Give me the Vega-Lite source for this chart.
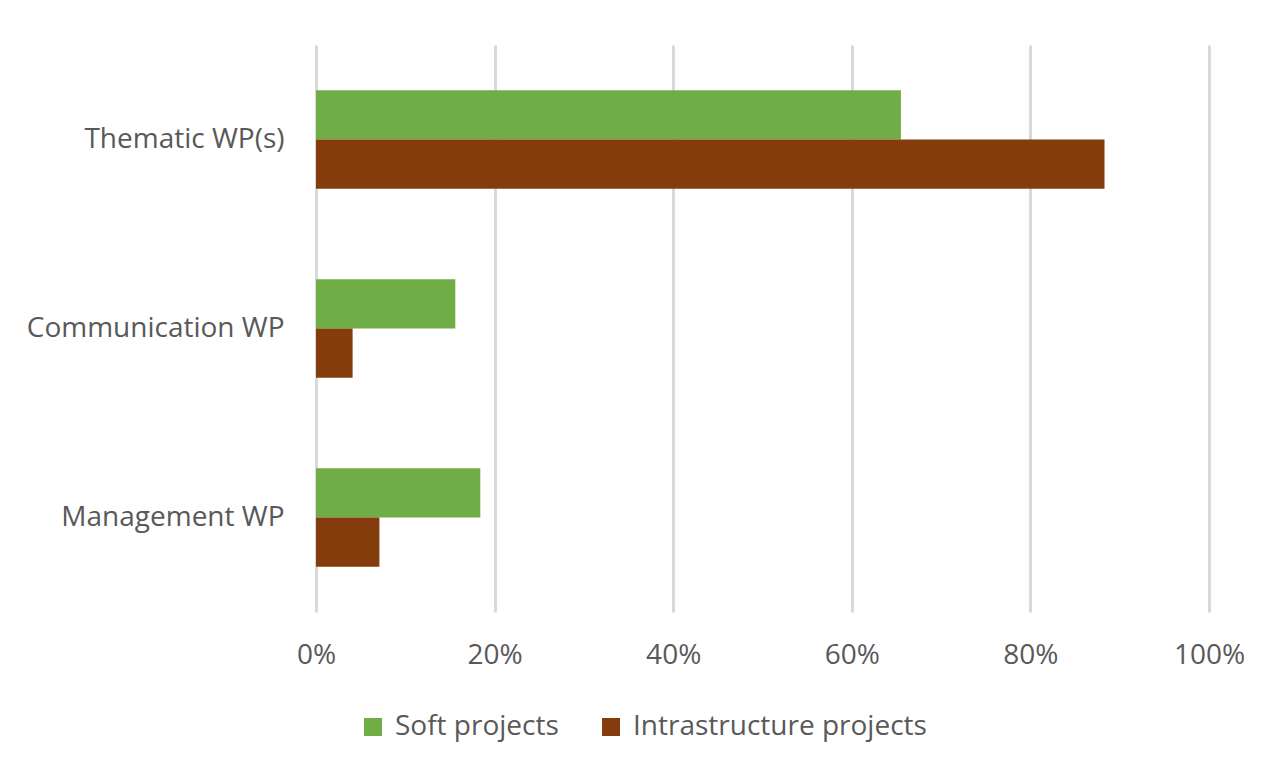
{
  "$schema": "https://vega.github.io/schema/vega-lite/v6.json",
  "autosize": {"type": "none"},
  "padding": {"left": 316, "top": 45, "right": 58, "bottom": 160},
  "width": 893,
  "height": 567,
  "background": "white",
  "config": {
    "font": "Open Sans",
    "view": {"stroke": null},
    "axis": {"labelColor": "#595959", "labelFontSize": 28, "labelFont": "Open Sans", "labelLimit": 500},
    "legend": {"labelColor": "#595959", "labelFontSize": 28, "labelFont": "Open Sans", "labelLimit": 500}
  },
  "data": {
    "values": [
      {"category": "Thematic WP(s)", "type": "Soft projects", "share": 0.655},
      {"category": "Thematic WP(s)", "type": "Intrastructure projects", "share": 0.883},
      {"category": "Communication WP", "type": "Soft projects", "share": 0.156},
      {"category": "Communication WP", "type": "Intrastructure projects", "share": 0.041},
      {"category": "Management WP", "type": "Soft projects", "share": 0.184},
      {"category": "Management WP", "type": "Intrastructure projects", "share": 0.071}
    ]
  },
  "mark": {"type": "bar"},
  "encoding": {
    "y": {
      "field": "category",
      "type": "nominal",
      "sort": ["Thematic WP(s)", "Communication WP", "Management WP"],
      "scale": {"paddingInner": 0.48, "paddingOuter": 0.24},
      "axis": {"title": null, "ticks": false, "domain": false, "labelPadding": 32, "grid": false}
    },
    "yOffset": {
      "field": "type",
      "type": "nominal",
      "sort": ["Soft projects", "Intrastructure projects"],
      "scale": {"paddingInner": 0, "paddingOuter": 0}
    },
    "x": {
      "field": "share",
      "type": "quantitative",
      "scale": {"domain": [0, 1], "nice": false},
      "axis": {
        "title": null,
        "format": ".0%",
        "values": [0, 0.2, 0.4, 0.6, 0.8, 1],
        "grid": true,
        "gridColor": "#d9d9d9",
        "gridWidth": 3,
        "ticks": false,
        "domain": false,
        "labelFlush": false,
        "labelPadding": 29
      }
    },
    "color": {
      "field": "type",
      "type": "nominal",
      "sort": ["Soft projects", "Intrastructure projects"],
      "scale": {"domain": ["Soft projects", "Intrastructure projects"], "range": ["#70AD47", "#843C0C"]},
      "legend": {
        "title": null,
        "orient": "none",
        "direction": "horizontal",
        "legendX": 43,
        "legendY": 668,
        "symbolType": "square",
        "symbolSize": 324,
        "symbolStrokeWidth": 0,
        "labelOffset": 8,
        "columnPadding": 38
      }
    }
  }
}
